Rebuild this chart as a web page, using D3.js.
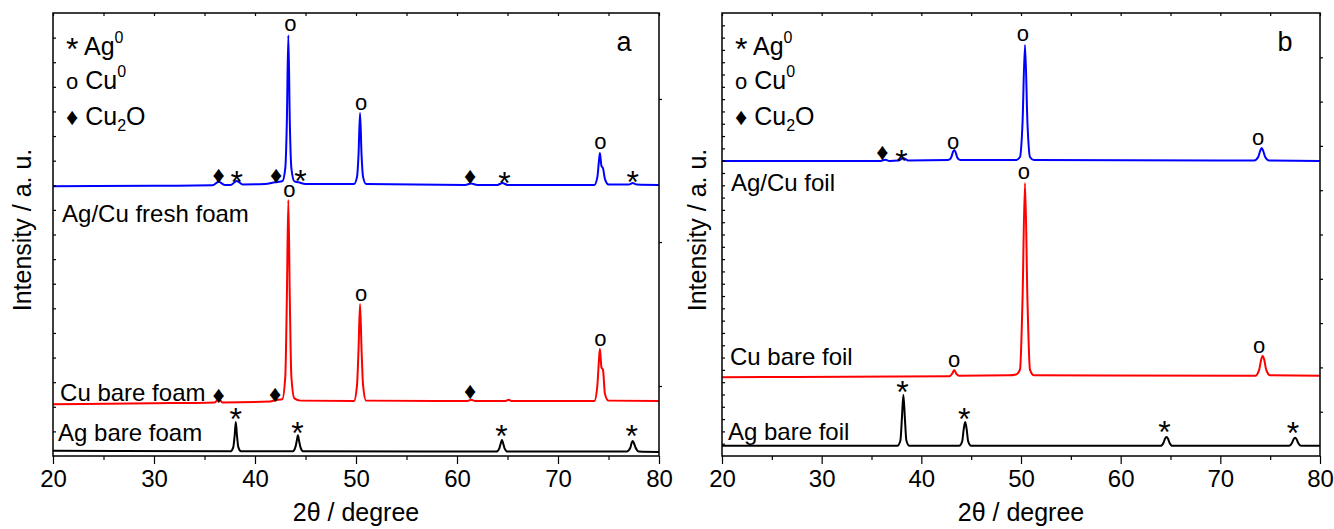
<!DOCTYPE html>
<html><head><meta charset="utf-8">
<script src="https://cdn.jsdelivr.net/npm/d3@7"></script>
<style>
body{margin:0;background:#fff}
text{font-family:"Liberation Sans",Arial,sans-serif;fill:#000}
</style>
</head><body>
<svg id="c" width="1334" height="529"></svg>
<script>
// ---------- data (2theta in degree, intensity in a.u., traces stacked as shown) ----------
const xTicks = [20, 30, 40, 50, 60, 70, 80];
const xMinorTicks = [25, 35, 45, 55, 65, 75];

const aBlue = [[20,60.9],[30,61.0],[35.8,61.1],[36.4,61.9],[37.0,61.2],[37.6,61.2],[38.2,62.1],[38.8,61.3],[41.0,61.4],[42.0,61.8],[42.7,62.0],[43.0,65],[43.15,75],[43.3,95.0],[43.45,75],[43.6,65],[43.9,62.0],[44.3,61.8],[45.0,61.4],[49.8,61.4],[50.1,63],[50.25,68],[50.4,77.4],[50.55,68],[50.7,63],[51.0,61.4],[60.8,61.2],[61.4,61.5],[62.0,61.2],[64.0,61.2],[64.5,61.6],[65.0,61.2],[73.6,61.2],[73.9,63],[74.05,66.5],[74.15,68.4],[74.3,65.5],[74.45,65],[74.65,62.5],[75.0,61.3],[77.0,61.3],[77.4,61.6],[77.8,61.3],[80,61.2]];
const aRed = [[20,11.7],[30,11.9],[36.0,12.1],[36.4,12.8],[36.8,12.1],[41.5,12.3],[42.0,12.6],[42.7,12.8],[43.0,18],[43.15,35],[43.3,57.8],[43.45,35],[43.6,18],[43.9,13.0],[44.5,12.5],[49.8,12.4],[50.1,16],[50.25,24],[50.4,34.3],[50.55,24],[50.7,16],[51.0,12.5],[61.0,12.4],[61.4,12.7],[61.8,12.4],[64.8,12.4],[65.1,12.7],[65.4,12.4],[73.6,12.4],[73.9,16],[74.05,21.5],[74.15,24.2],[74.3,20],[74.45,19.5],[74.65,14],[75.0,12.5],[80,12.4]];
const aBlack = [[20,1.2],[37.6,1.1],[37.85,2.0],[38.0,5],[38.1,7.7],[38.2,5],[38.35,2.0],[38.6,1.1],[43.75,1.1],[44.0,2.0],[44.15,3.6],[44.25,4.7],[44.35,3.6],[44.5,2.0],[44.75,1.1],[63.9,1.0],[64.2,1.8],[64.35,3.0],[64.45,3.6],[64.55,3.0],[64.7,1.8],[65.0,1.0],[76.8,1.0],[77.15,1.8],[77.3,3.0],[77.4,3.4],[77.5,3.0],[77.7,1.8],[78.0,1.0],[80,0.9]];

const bBlue = [[20,66.6],[35.9,66.6],[36.4,66.9],[36.8,66.6],[37.7,66.7],[38.2,67.2],[38.7,66.7],[42.7,66.8],[43.0,67.4],[43.15,68.5],[43.3,69.1],[43.45,68.5],[43.6,67.4],[43.9,66.8],[49.5,66.8],[49.9,67.5],[50.15,75],[50.4,92.8],[50.65,75],[50.9,67.5],[51.3,66.8],[73.4,66.7],[73.8,67.5],[74.0,68.9],[74.15,69.5],[74.3,68.9],[74.5,67.5],[74.9,66.7],[80,66.6]];
const bRed = [[20,17.8],[42.8,18.0],[43.1,18.6],[43.3,19.4],[43.5,18.6],[43.8,18.1],[48.8,18.2],[49.5,18.4],[49.9,19.5],[50.15,35],[50.4,61.6],[50.65,35],[50.9,19.5],[51.3,18.2],[73.5,18.1],[73.9,19.5],[74.1,21.8],[74.25,22.6],[74.4,21.8],[74.6,19.5],[75.0,18.2],[80,18.1]];
const bBlack = [[20,2.3],[37.6,2.3],[37.9,3.5],[38.05,8.5],[38.2,13.8],[38.35,8.5],[38.5,3.5],[38.8,2.3],[43.8,2.3],[44.1,3.3],[44.25,6],[44.4,7.7],[44.55,6],[44.7,3.3],[45.0,2.3],[64.0,2.3],[64.3,3.0],[64.45,3.9],[64.6,4.3],[64.75,3.9],[64.9,3.0],[65.2,2.3],[76.9,2.3],[77.2,3.0],[77.35,3.8],[77.5,4.1],[77.65,3.8],[77.8,3.0],[78.1,2.3],[80,2.3]];

// peak markers: [2theta, a.u., symbol]
const aMarks = [[36.4,63.4,"♦"],[38.2,63.4,"*"],[42.1,63.4,"♦"],[44.5,63.6,"*"],[43.5,97.3,"o"],[50.5,79.5,"o"],[61.3,63.2,"♦"],[64.7,63.2,"*"],[74.2,70.7,"o"],[77.4,63.4,"*"],
  [43.4,59.8,"o"],[50.5,36.3,"o"],[74.2,26.2,"o"],[36.4,13.8,"♦"],[42.0,14.0,"♦"],[61.3,14.7,"♦"],
  [38.1,9.8,"*"],[44.2,6.7,"*"],[64.4,6.1,"*"],[77.3,6.0,"*"]];
const bMarks = [[36.1,68.6,"♦"],[38.0,68.1,"*"],[43.2,70.7,"o"],[50.2,95.0,"o"],[73.8,71.6,"o"],
  [50.3,63.9,"o"],[43.3,21.4,"o"],[73.9,24.6,"o"],
  [38.1,15.9,"*"],[44.3,9.9,"*"],[64.4,6.8,"*"],[77.3,6.6,"*"]];

const aNames = ["Ag/Cu fresh foam","Cu bare foam","Ag bare foam"];
const aNamePos = [[20.9,52.8],[20.7,12.4],[20.5,3.4]];
const bNames = ["Ag/Cu foil","Cu bare foil","Ag bare foil"];
const bNamePos = [[20.9,59.8],[20.8,20.5],[20.6,3.6]];

const legendLabels = [["*","Ag","0",""],["o","Cu","0",""],["♦","Cu","2","O"]];
const panelLetters = ["a","b"];
const xTitle = "2θ / degree";
const yTitle = "Intensity / a. u.";

// ---------- drawing ----------
const svg = d3.select("#c");
const colors = ["#0000ff","#ff0000","#000000"];
const symSize = {"*":"32px","o":"22px","♦":"24px"};
const symDy = {"*":"0.55em","o":"0.27em","♦":"0.33em"};

const panels = [
  {x0:53, x1:659, traces:[aBlue,aRed,aBlack], marks:aMarks, names:aNames, namePos:aNamePos, letter:panelLetters[0],
   leftN:18, rightVals:[15.8,48.3,80.6], yTitleX:22},
  {x0:722, x1:1320, traces:[bBlue,bRed,bBlack], marks:bMarks, names:bNames, namePos:bNamePos, letter:panelLetters[1],
   leftN:36, rightVals:d3.range(1,10).map(i=>i*10), yTitleX:697}
];
const yTop = 13, yBot = 456;

panels.forEach(p => {
  const x = d3.scaleLinear().domain([20,80]).range([p.x0,p.x1]);
  const y = d3.scaleLinear().domain([0,100]).range([yBot,yTop]);
  const g = svg.append("g");

  // traces
  const line = d3.line().x(d=>x(d[0])).y(d=>y(d[1])).curve(d3.curveMonotoneX);
  p.traces.forEach((t,i) => {
    g.append("path").datum(t).attr("d",line).attr("fill","none")
     .attr("stroke",colors[i]).attr("stroke-width",2).attr("stroke-linejoin","round");
  });

  // axes
  const bottom = g.append("g").attr("transform",`translate(0,${yBot})`)
    .call(d3.axisBottom(x).tickValues(xTicks).tickSize(8).tickPadding(6).tickFormat(d3.format("d")));
  g.append("g").attr("transform",`translate(0,${yBot})`)
    .call(d3.axisBottom(x).tickValues(xMinorTicks).tickSize(4).tickFormat(""));
  g.append("g").attr("transform",`translate(0,${yTop})`)
    .call(d3.axisTop(x).tickValues(xTicks.concat(xMinorTicks)).tickSize(-3).tickFormat(""));
  const leftVals = d3.range(1,p.leftN).map(i=>i*100/p.leftN);
  g.append("g").attr("transform",`translate(${p.x0},0)`)
    .call(d3.axisLeft(y).tickValues(leftVals).tickSize(-3).tickFormat(""));
  g.append("g").attr("transform",`translate(${p.x1},0)`)
    .call(d3.axisRight(y).tickValues(p.rightVals).tickSize(3).tickFormat(""));
  g.selectAll(".domain").remove();
  g.selectAll(".tick line").attr("stroke","#000").attr("stroke-width",1.2);
  bottom.selectAll("text").style("font-size","24px").attr("fill","#000");
  g.append("rect").attr("x",p.x0).attr("y",yTop).attr("width",p.x1-p.x0).attr("height",yBot-yTop)
    .attr("fill","none").attr("stroke","#000").attr("stroke-width",1.5);

  // markers
  g.selectAll(".mk").data(p.marks).join("text").attr("class","mk")
    .attr("x",d=>x(d[0])).attr("y",d=>y(d[1]))
    .attr("text-anchor","middle")
    .attr("dy",d=>symDy[d[2]])
    .style("font-size",d=>symSize[d[2]])
    .text(d=>d[2]);

  // trace names
  g.selectAll(".nm").data(p.names).join("text").attr("class","nm")
    .attr("x",(d,i)=>x(p.namePos[i][0])).attr("y",(d,i)=>y(p.namePos[i][1]))
    .style("font-size","24px").text(d=>d);

  // legend
  legendLabels.forEach((l,i) => {
    const lx = p.x0 + 13, ly = 53 + i*36;
    const t = g.append("text").attr("x",lx).attr("y",ly).style("font-size","25px");
    t.append("tspan").text(l[0]).style("font-size", symSize[l[0]])
      .attr("dy", l[0]==="*"?"0.22em":0);
    t.append("tspan").text(" "+l[1]).attr("dy", l[0]==="*"?"-0.22em":0);
    if (l[3]) {
      t.append("tspan").text(l[2]).style("font-size","16px").attr("dy","0.35em");
      t.append("tspan").text(l[3]).attr("dy","-0.22em");
    } else {
      t.append("tspan").text(l[2]).style("font-size","16px").attr("dy","-0.75em");
    }
  });

  // panel letter
  g.append("text").attr("x",p.x1-35).attr("y",51).attr("text-anchor","middle").style("font-size","27px").text(p.letter);

  // axis titles
  g.append("text").attr("x",(p.x0+p.x1)/2).attr("y",521).attr("text-anchor","middle").style("font-size","25px").text(xTitle);
  g.append("text").attr("transform",`translate(${p.yTitleX},230) rotate(-90)`).attr("text-anchor","middle")
    .attr("dy","0.35em").style("font-size","25px").text(yTitle);
});
</script>
</body></html>
